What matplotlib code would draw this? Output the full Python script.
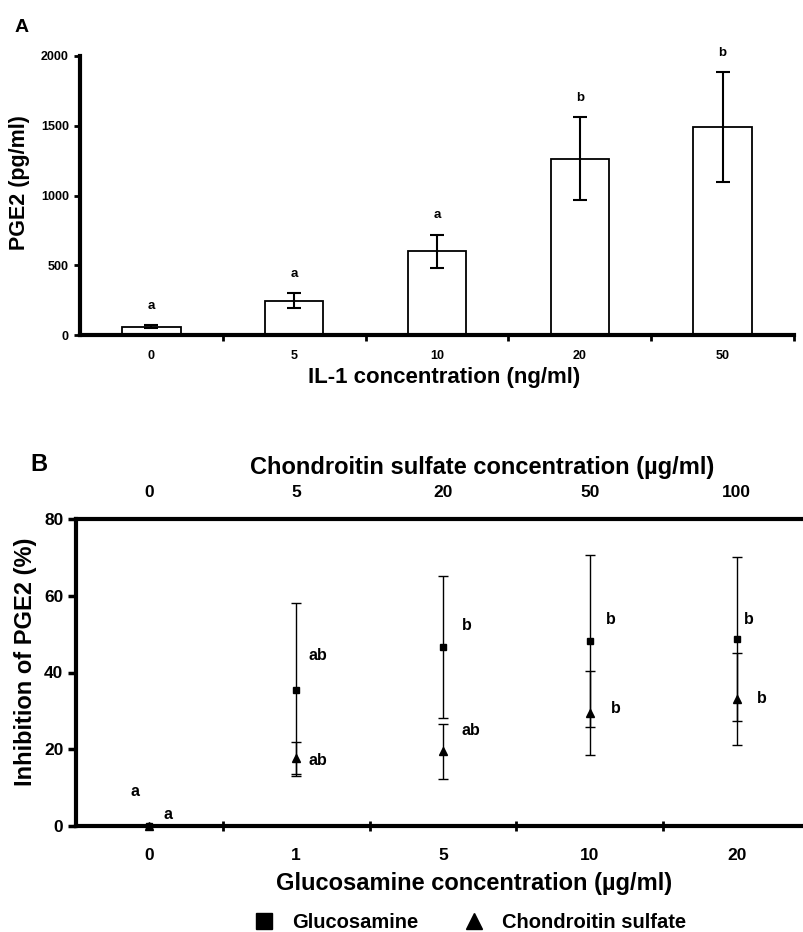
import matplotlib
matplotlib.use("Agg")
import matplotlib.pyplot as plt

plt.rcParams['font.family'] = ['Liberation Sans', 'DejaVu Sans']

# panel A data
il1_conc = ['0', '5', '10', '20', '50']
pge2_mean = [60, 245, 600, 1265, 1490]
pge2_err = [10, 55, 120, 295, 392]
pge2_letters = ['a', 'a', 'a', 'b', 'b']

# panel B data
gluc_conc = ['0', '1', '5', '10', '20']
chond_conc = ['0', '5', '20', '50', '100']
gluc_mean = [0, 35.5, 46.6, 48.2, 48.7]
gluc_err = [0, 22.6, 18.5, 22.4, 21.4]
chond_mean = [0, 17.7, 19.5, 29.4, 33.1]
chond_err = [0, 4.2, 7.2, 10.9, 12.0]
gluc_letters = ['a', 'ab', 'b', 'b', 'b']
chond_letters = ['a', 'ab', 'ab', 'b', 'b']

W, H = 804, 932
fig = plt.figure(figsize=(W / 100, H / 100), dpi=100)

def px_axes(l, t, r, b):
    return fig.add_axes([l / W, 1 - b / H, (r - l) / W, (b - t) / H])

# ---------------- panel A ----------------
axA = px_axes(80, 56, 794, 335)
xs = list(range(len(il1_conc)))
axA.bar(xs, pge2_mean, width=0.41, color='white', edgecolor='black', linewidth=1.3)
axA.errorbar(xs, pge2_mean, yerr=pge2_err, fmt='none', ecolor='black',
             elinewidth=1.5, capsize=5, capthick=1.5)
for i in xs:
    axA.annotate(pge2_letters[i], (i, pge2_mean[i] + pge2_err[i]), xytext=(0, 14),
                 textcoords='offset points', ha='center', va='center',
                 fontsize=9.5, fontweight='bold')
axA.set_xlim(-0.5, 4.5)
axA.set_ylim(0, 2000)
axA.set_yticks([0, 500, 1000, 1500, 2000])
axA.set_xticks(xs)
axA.set_xticklabels(il1_conc)
axA.set_xticks([0.5, 1.5, 2.5, 3.5, 4.5], minor=True)
axA.tick_params(axis='x', which='major', length=0, pad=11)
axA.tick_params(axis='x', which='minor', length=4, width=2, direction='out')
axA.tick_params(axis='y', length=4, width=2, direction='out', pad=4)
for lab in axA.get_xticklabels() + axA.get_yticklabels():
    lab.set_fontsize(9)
    lab.set_fontweight('bold')
for s in ['top', 'right']:
    axA.spines[s].set_visible(False)
axA.spines['left'].set_linewidth(3)
axA.spines['bottom'].set_linewidth(3)
axA.set_ylabel('PGE2 (pg/ml)', fontsize=15.5, fontweight='bold')
axA.yaxis.set_label_coords(-0.07, 0.545)
axA.set_xlabel('IL-1 concentration (ng/ml)', fontsize=16, fontweight='bold')
axA.xaxis.set_label_coords(0.51, -0.116)
fig.text(15 / W, 1 - 27 / H, 'A', fontsize=14, fontweight='bold', va='center', ha='left')

# ---------------- panel B ----------------
axB = px_axes(76, 519, 810, 826)
xb = list(range(len(gluc_conc)))
axB.errorbar(xb, gluc_mean, yerr=gluc_err, fmt='s', color='black', markersize=5,
             elinewidth=1, capsize=3.5, capthick=1, clip_on=False, zorder=3)
axB.errorbar(xb, chond_mean, yerr=chond_err, fmt='^', color='black', markersize=5.5,
             elinewidth=1, capsize=3.5, capthick=1, clip_on=False, zorder=3)
g_off = [(-0.1, 9.1), (0.15, 8.8), (0.16, 5.7), (0.14, 5.7), (0.08, 5.2)]
c_off = [(0.13, 2.9), (0.15, -0.7), (0.19, 5.5), (0.18, 1.1), (0.17, 0.2)]
for i in xb:
    dx, dy = g_off[i]
    axB.text(i + dx, gluc_mean[i] + dy, gluc_letters[i], ha='center', va='center',
             fontsize=11.5, fontweight='bold')
    dx, dy = c_off[i]
    axB.text(i + dx, chond_mean[i] + dy, chond_letters[i], ha='center', va='center',
             fontsize=11.5, fontweight='bold')
axB.set_xlim(-0.5, 4.5)
axB.set_ylim(0, 80)
axB.set_yticks([0, 20, 40, 60, 80])
axB.set_xticks(xb)
axB.set_xticklabels(gluc_conc)
axB.set_xticks([0.5, 1.5, 2.5, 3.5], minor=True)
axB.tick_params(axis='x', which='major', length=0, pad=16, top=False)
axB.tick_params(axis='x', which='minor', length=7, width=2, direction='inout', top=True)
axB.tick_params(axis='y', length=6, width=2.5, direction='out', pad=3)
for lab in axB.get_xticklabels() + axB.get_yticklabels():
    lab.set_fontsize(12.5)
    lab.set_fontweight('bold')
axB.spines['right'].set_visible(False)
for s in ['left', 'top', 'bottom']:
    axB.spines[s].set_linewidth(3)
axB.set_ylabel('Inhibition of PGE2 (%)', fontsize=17, fontweight='bold')
axB.yaxis.set_label_coords(-0.053, 0.534)
axB.set_xlabel('Glucosamine concentration (\u00b5g/ml)', fontsize=17, fontweight='bold')
axB.xaxis.set_label_coords(0.542, -0.15)

axT = axB.twiny()
axT.set_xlim(-0.5, 4.5)
axT.set_xticks(xb)
axT.set_xticklabels(chond_conc)
axT.tick_params(axis='x', length=0, pad=14)
for lab in axT.get_xticklabels():
    lab.set_fontsize(12.5)
    lab.set_fontweight('bold')
for s in axT.spines.values():
    s.set_visible(False)
axT.set_xlabel('Chondroitin sulfate concentration (\u00b5g/ml)', fontsize=17,
               fontweight='bold')
axT.xaxis.set_label_coords(0.553, 1.145)

fig.text(30 / W, 1 - 465 / H, 'B', fontsize=17, fontweight='bold', va='center', ha='left')

# legend
fig.legend(handles=[
    plt.Line2D([], [], marker='s', color='black', linestyle='none', markersize=11),
    plt.Line2D([], [], marker='^', color='black', linestyle='none', markersize=12)],
    labels=['Glucosamine', 'Chondroitin sulfate'], loc='center',
    bbox_to_anchor=(465 / W, 1 - 923 / H), ncol=2, frameon=False,
    prop={'size': 14.5, 'weight': 'bold'}, handletextpad=0.35, columnspacing=1.8,
    borderpad=0)

fig.savefig('out.png', dpi=100)
